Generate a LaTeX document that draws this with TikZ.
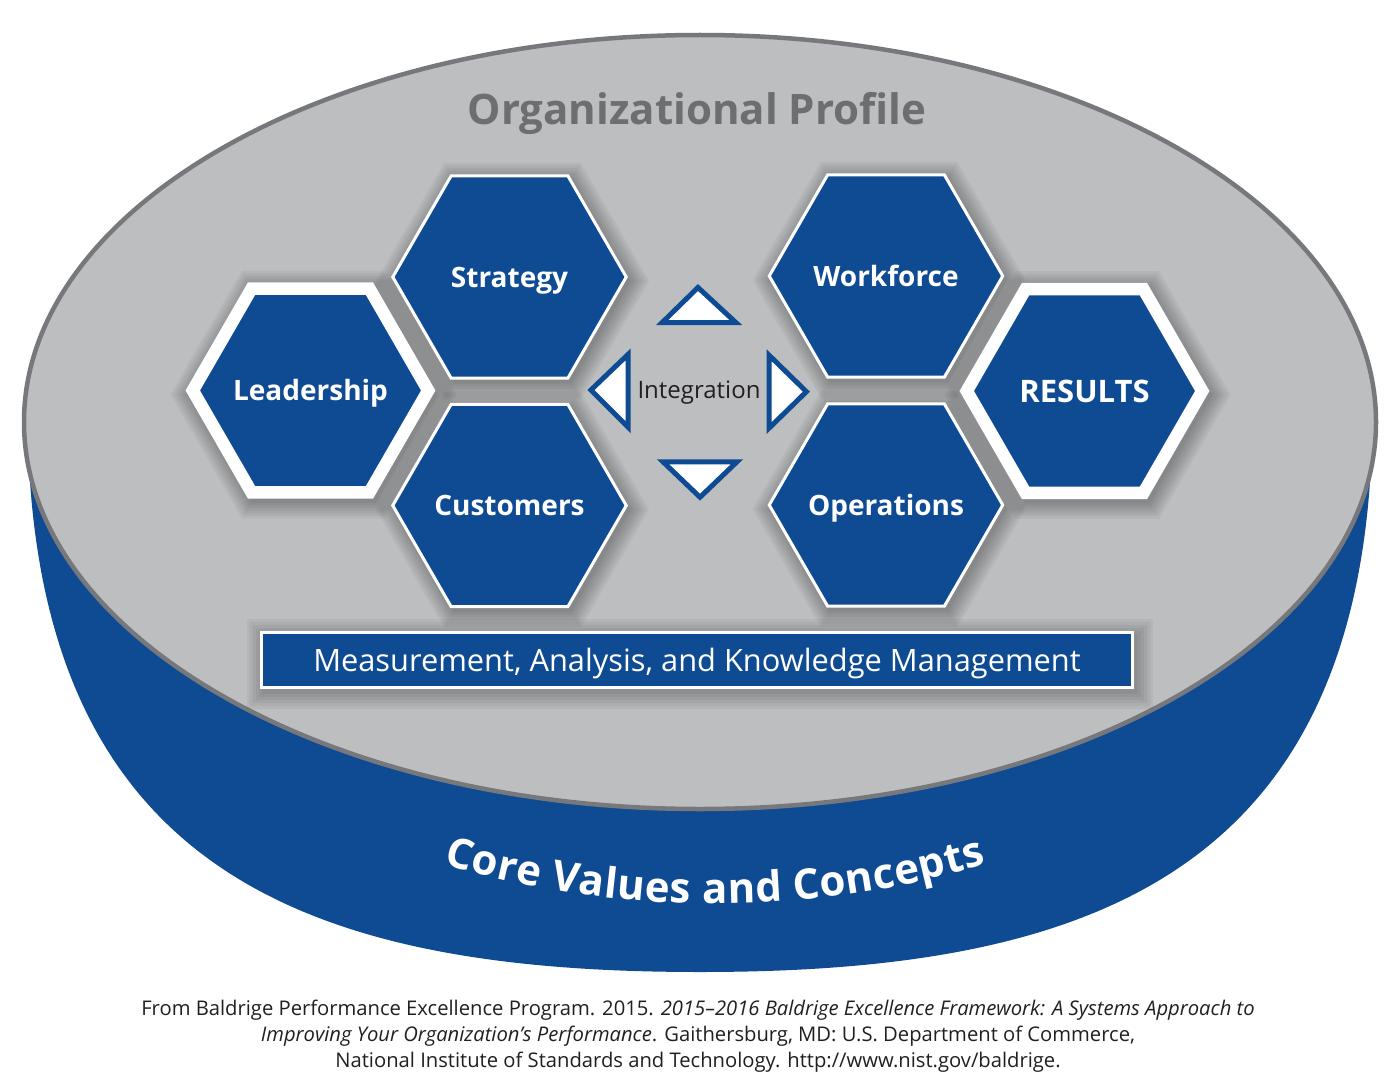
\documentclass[tikz,border=0pt]{standalone}
\usepackage{fontspec}
\setmainfont{Open Sans}
\usetikzlibrary{shapes.geometric,decorations.text}
\definecolor{cvblue}{RGB}{14,75,147}
\definecolor{topgray}{RGB}{188,190,192}
\definecolor{rimgray}{RGB}{119,120,123}
\definecolor{titlegray}{RGB}{109,110,113}
\definecolor{inkblack}{RGB}{35,31,32}
\begin{document}
\begin{tikzpicture}[x=1pt,y=-1pt,
  hexbase/.style={regular polygon, regular polygon sides=6, fill=cvblue, draw=white,
    inner sep=0pt, line join=miter},
  hexthin/.style={hexbase, line width=3, minimum size=233.5},
  hexthick/.style={hexbase, line width=12.5, minimum size=235.5},
  hexlabel/.style={inner sep=0pt, text=white,
    font=\bfseries\fontsize{28}{28}\selectfont, text height=20pt, text depth=0pt},
  shade/.style={black, opacity=0.045},
  tri/.style={draw=cvblue, fill=white, line width=5, line join=miter},
  mbox/.style={rectangle, fill=cvblue, draw=white, line width=3, text=white,
    minimum width=871, minimum height=55, inner sep=0pt,
    font=\fontsize{30.8}{30.8}\selectfont, text height=22pt, text depth=0pt},
  foot/.style={inner sep=0pt, anchor=base, text=inkblack, font=\fontsize{20.2}{20.2}\selectfont}
]
\useasboundingbox (0,0) rectangle (1400,1089);
\fill[white] (0,0) rectangle (1400,1089);

% cylinder side
\fill[cvblue] (28,440) .. controls (40,880) and (320,972) .. (700,972)
  .. controls (1080,972) and (1360,880) .. (1372,440) -- cycle;
% top surface
\draw[fill=topgray, draw=rimgray, line width=4.5] (700,422) ellipse [x radius=676, y radius=387];

% title
\node[text=titlegray, font=\bfseries\fontsize{42}{42}\selectfont, text height=30pt, text depth=0pt, inner sep=0pt]
  (orgprof) at (697,110) {Organizational Profile};

% shadows of hexagons
\foreach \cx/\cy/\R in {509.5/277/118.5, 509.5/505.5/118.5, 310.5/390.5/125,
                        886/276/118.5, 886/505/118.5, 1084.5/391/125} {
  \foreach \e in {18,15,...,0} {
    \pgfmathsetmacro\rr{\R+\e}
    \fill[shade] (\cx+3,\cy+4) +(0:\rr) -- +(60:\rr) -- +(120:\rr) -- +(180:\rr)
      -- +(240:\rr) -- +(300:\rr) -- cycle;
  }
}
% shadow of the measurement box
\foreach \e in {16,13,...,0} {
  \fill[shade] (263-\e,635-\e) rectangle (1137+\e,693+\e);
}

% hexagons
\node[hexthin]  (strategy)   at (509.5,277)   {};
\node[hexthin]  (customers)  at (509.5,505.5) {};
\node[hexthick] (leadership) at (310.5,390.5) {};
\node[hexthin]  (workforce)  at (886,276)     {};
\node[hexthin]  (operations) at (886,505)     {};
\node[hexthick] (results)    at (1084.5,391)  {};
\node[hexlabel] (strategy-t)   at (strategy)   {Strategy};
\node[hexlabel] (customers-t)  at (customers)  {Customers};
\node[hexlabel] (leadership-t) at (leadership) {Leadership};
\node[hexlabel] (workforce-t)  at (workforce)  {Workforce};
\node[hexlabel] (operations-t) at (operations) {Operations};
\node[hexlabel, font=\bfseries\fontsize{31}{31}\selectfont, text height=22pt] (results-t) at (results) {RESULTS};

% integration arrows
\draw[tri] (698,287.5) -- (662.2,322.5) -- (735.8,322.5) -- cycle;
\draw[tri] (700,497.2) -- (663,461.8) -- (737,461.8) -- cycle;
\draw[tri] (590.9,390) -- (628.2,354.3) -- (628.2,427.3) -- cycle;
\draw[tri] (806.4,391.7) -- (769.2,355.3) -- (769.2,428) -- cycle;
\node[text=inkblack, font=\fontsize{24}{24}\selectfont, text height=17.5pt, text depth=0pt, inner sep=0pt]
  (integration) at (699,390) {Integration};

% measurement box
\node[mbox] (measure) at (697,660) {Measurement, Analysis, and Knowledge Management};

% core values along an arc
\path[decorate, decoration={text along path, text align=fit to path, text color=white,
  text={|\bfseries\fontsize{42}{42}\selectfont|Core Values and Concepts}}]
  (443.3,864.1) arc[start angle=106.6, end angle=73.4, radius=950];

% footer
\node[foot] (foot1) at (698,1015) {From Baldrige Performance Excellence Program. 2015. \textit{2015–2016 Baldrige Excellence Framework: A Systems Approach to}};
\node[foot] (foot2) at (698,1041) {\textit{Improving Your Organization’s Performance}. Gaithersburg, MD: U.S. Department of Commerce,};
\node[foot] (foot3) at (698,1067) {National Institute of Standards and Technology. http://www.nist.gov/baldrige.};
\end{tikzpicture}
\end{document}
